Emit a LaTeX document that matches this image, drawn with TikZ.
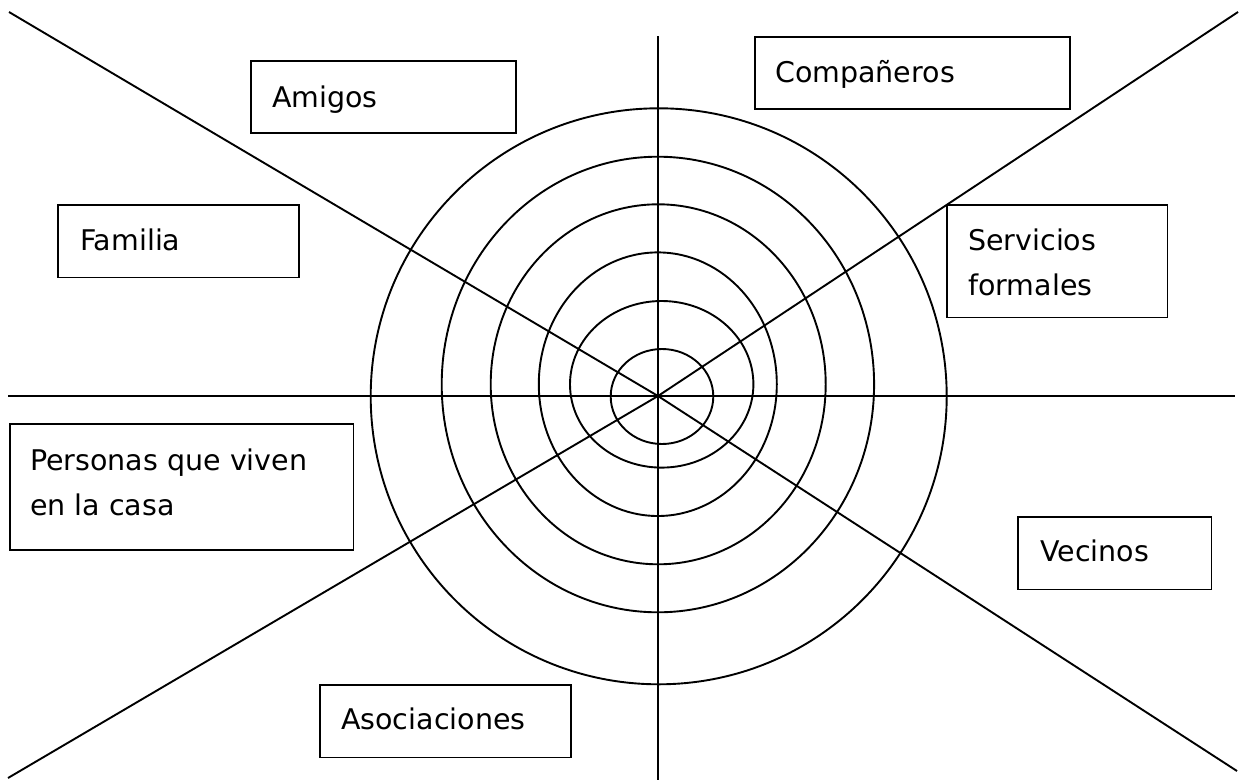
\documentclass[tikz,border=0pt]{standalone}
\usepackage{fontspec}
\setmainfont{DejaVu Sans}
\begin{document}
\begin{tikzpicture}[x=1pt,y=-1pt,
  ln/.style={line width=1.9pt, black},
  rbox/.style={draw=black, line width=1.9pt, fill=white, anchor=north west, inner sep=0pt},
  lbl/.style={anchor=base west, inner sep=0pt, font=\fontsize{28.5}{34}\selectfont}]
\useasboundingbox (0,0) rectangle (1243,780);
\fill[white] (0,0) rectangle (1243,780);
% centre and free line ends
\coordinate (O) at (658,396);
\coordinate (tl) at (9,12);
\coordinate (br) at (1237,771);
\coordinate (tr) at (1238,12);
\coordinate (bl) at (8,778);
\coordinate (hl) at (8,396);
\coordinate (hr) at (1235,396);
\coordinate (vt) at (658,36);
\coordinate (vb) at (658,780);
% rings
\draw[ln] (662,396.5) ellipse [x radius=51.3pt, y radius=47.5pt];
\draw[ln] (661.7,384.3) ellipse [x radius=91.7pt, y radius=83.3pt];
\draw[ln] (657.8,384.2) ellipse [x radius=119pt, y radius=131.8pt];
\draw[ln] (658.2,384.3) ellipse [x radius=167.5pt, y radius=180pt];
\draw[ln] (657.9,384.5) ellipse [x radius=216.2pt, y radius=227.8pt];
\draw[ln] (658.7,396.3) ellipse [x radius=288pt, y radius=288pt];
% spokes
\draw[ln] (hl) -- (hr);
\draw[ln] (vt) -- (vb);
\draw[ln] (tl) -- (O) -- (br);
\draw[ln] (tr) -- (O) -- (bl);
% boxes
\node[rbox, minimum width=265pt, minimum height=72pt] (amigos) at (250,60) {};
\node[lbl] (amigosT) at ([xshift=22pt,yshift=-47pt]amigos.north west) {Amigos};
\node[rbox, minimum width=241pt, minimum height=72.5pt] (familia) at (57,204) {};
\node[lbl] (familiaT) at ([xshift=23pt,yshift=-46pt]familia.north west) {Familia};
\node[rbox, minimum width=315pt, minimum height=72pt] (comp) at (754,36) {};
\node[lbl] (compT) at ([xshift=21pt,yshift=-46pt]comp.north west) {Compañeros};
\node[rbox, minimum width=220.5pt, minimum height=112.5pt] (serv) at (946,204) {};
\node[lbl] (servT1) at ([xshift=22pt,yshift=-46pt]serv.north west) {Servicios};
\node[lbl] (servT2) at ([xshift=22pt,yshift=-91pt]serv.north west) {formales};
\node[rbox, minimum width=343.5pt, minimum height=126pt] (pers) at (9,423) {};
\node[lbl] (persT1) at ([xshift=21pt,yshift=-47pt]pers.north west) {Personas que viven};
\node[lbl] (persT2) at ([xshift=21pt,yshift=-92pt]pers.north west) {en la casa};
\node[rbox, minimum width=193.5pt, minimum height=72.5pt] (vec) at (1017,516) {};
\node[lbl] (vecT) at ([xshift=23pt,yshift=-45pt]vec.north west) {Vecinos};
\node[rbox, minimum width=251pt, minimum height=72.5pt] (asoc) at (319,684) {};
\node[lbl] (asocT) at ([xshift=22pt,yshift=-45pt]asoc.north west) {Asociaciones};
\end{tikzpicture}
\end{document}
